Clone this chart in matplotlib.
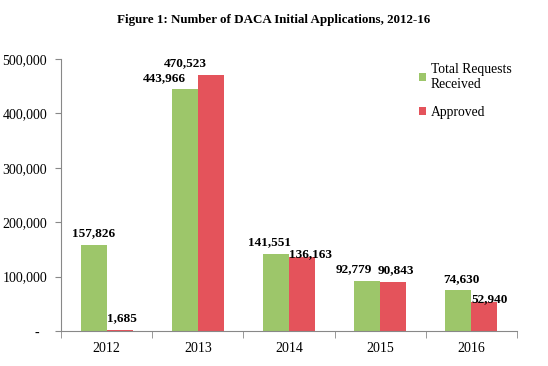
import matplotlib
matplotlib.use("Agg")
import matplotlib.pyplot as plt
import numpy as np
from matplotlib.ticker import FuncFormatter

years = ["2012", "2013", "2014", "2015", "2016"]
received = [157826, 443966, 141551, 92779, 74630]
approved = [1685, 470523, 136163, 90843, 52940]
series_names = ["Total Requests\nReceived", "Approved"]

green = "#9DC66A"
red = "#E4535B"

plt.rcParams["font.family"] = ["Liberation Serif", "DejaVu Serif"]

fig = plt.figure(figsize=(5.48, 3.66), dpi=100)
ax = fig.add_axes([61/548, 1-331/366, (517-61)/548, (331-59)/366])

x = np.arange(len(years))
w = 0.285
b1 = ax.bar(x - w/2, received, w, color=green, label=series_names[0], zorder=2)
b2 = ax.bar(x + w/2, approved, w, color=red, label=series_names[1], zorder=2)

# label offsets in points (dx, dy)
off1 = [(0, 4), (-15, 4), (-5, 4), (-10, 4), (2, 4)]
off2 = [(2, 4), (-18, 4), (6, -2), (2, 4), (4, -2)]
for rect, v, o in zip(b1, received, off1):
    ax.annotate(f"{v:,}", (rect.get_x() + rect.get_width()/2, v), xytext=o,
                textcoords="offset points", ha="center", va="bottom",
                fontsize=9.5, fontweight="bold")
for rect, v, o in zip(b2, approved, off2):
    ax.annotate(f"{v:,}", (rect.get_x() + rect.get_width()/2, v), xytext=o,
                textcoords="offset points", ha="center", va="bottom",
                fontsize=9.5, fontweight="bold")

ax.set_xlim(-0.5, len(years) - 0.5)
ax.set_ylim(0, 500000)
ax.set_yticks(np.arange(0, 500001, 100000))
ax.yaxis.set_major_formatter(FuncFormatter(lambda v, p: "-\u2007" if v == 0 else f"{int(v):,}"))
ax.set_xticks(x)
ax.set_xticklabels(years)
ax.set_xticks(np.arange(-0.5, len(years), 1), minor=True)
ax.tick_params(axis="x", which="major", length=0, pad=8, labelsize=10)
ax.tick_params(axis="x", which="minor", length=5, direction="out", color="#888888")
ax.tick_params(axis="y", length=4, direction="out", color="#888888", labelsize=10, pad=6)
for s in ["top", "right"]:
    ax.spines[s].set_visible(False)
for s in ["left", "bottom"]:
    ax.spines[s].set_color("#888888")

fig.text(0.5, 1-20/366, "Figure 1: Number of DACA Initial Applications, 2012-16",
         ha="center", va="center", fontsize=9.4, fontweight="bold")

fig.legend(handles=[b1, b2], loc="upper left", bbox_to_anchor=(419/548, 1-63/366),
           frameon=False, handlelength=0.55, handleheight=0.55, handletextpad=0.3,
           labelspacing=1.1, fontsize=9.8, borderpad=0, borderaxespad=0)

fig.savefig("out.png", dpi=100)
